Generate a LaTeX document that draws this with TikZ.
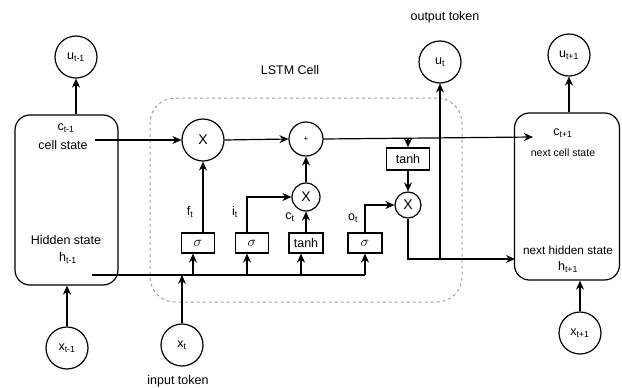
\documentclass[tikz,border=0pt]{standalone}
\usepackage{fontspec}
\setmainfont{Liberation Sans}
\usetikzlibrary{arrows.meta}
\begin{document}
\begin{tikzpicture}[x=1pt,y=-1pt,
  font=\fontsize{12.5}{14}\selectfont,
  circ/.style={circle, draw, line width=1.2pt, minimum size=42pt, inner sep=0pt},
  gatebox/.style={draw, line width=1.2pt, minimum width=33pt, minimum height=20pt, inner sep=0pt},
  statebox/.style={draw, line width=1.2pt, rounded corners=15pt},
  arr/.style={-{Stealth[length=9pt,width=8pt]}, line width=1.2pt},
  ln/.style={line width=1.2pt},
  small/.style={font=\fontsize{10.5}{12}\selectfont},
  sig/.style={font=\fontsize{15}{16}\selectfont}
]
\useasboundingbox (0,0) rectangle (622,388);

% LSTM cell frame
\node[draw=gray!75, dashed, line width=1pt, rounded corners=25pt,
      minimum width=312pt, minimum height=204pt, inner sep=0pt] (cell) at (306,200) {};
\node (celllbl) at (290,70) {LSTM Cell};

% left state box
\node[statebox, minimum width=103pt, minimum height=170pt] (lbox) at (66.5,200) {};
\node (clm1) at (66,128) {c\textsubscript{t-1}};
\node (cslbl) at (63,145) {cell state};
\node (hslbl) at (66,240) {Hidden state};
\node (hlm1) at (68,258) {h\textsubscript{t-1}};
\node[circ] (utm1) at (76,57) {u\textsubscript{t-1}};
\node[circ] (xtm1) at (67,348) {x\textsubscript{t-1}};

% right state box
\node[statebox, minimum width=105pt, minimum height=167pt] (rbox) at (567,196.5) {};
\node (cp1) at (563,133) {c\textsubscript{t+1}};
\node[small] (ncs) at (563,153) {next cell state};
\node[font=\fontsize{11.8}{13}\selectfont] (nhs) at (568,250) {next hidden state};
\node (hp1) at (568,267) {h\textsubscript{t+1}};
\node[circ] (utp1) at (569,55) {u\textsubscript{t+1}};
\node[circ] (xtp1) at (580,333) {x\textsubscript{t+1}};

% input / output tokens
\node[circ] (xt) at (182,345) {x\textsubscript{t}};
\node (inlbl) at (178,381) {input token};
\node[circ] (ut) at (440,62) {u\textsubscript{t}};
\node (outlbl) at (445,17) {output token};

% operators
\node[circ, font=\fontsize{14}{15}\selectfont] (fx) at (203,140) {X};
\node[circ, minimum size=34pt] (pl) at (306,139) {\fontsize{8}{9}\selectfont +};
\node[circ, minimum size=28pt, font=\fontsize{14}{15}\selectfont] (ix) at (306,197) {X};
\node[circ, minimum size=26pt, font=\fontsize{14}{15}\selectfont] (ox) at (408,205) {X};

% gates
\node[gatebox, sig] (fbox) at (198,243) {$\sigma$};
\node[gatebox, sig] (ibox) at (252,243) {$\sigma$};
\node[gatebox, minimum width=34pt] (tbox) at (306,243) {tanh};
\node[gatebox, minimum width=34pt, sig] (obox) at (365,243) {$\sigma$};
\node[gatebox, minimum width=43pt, minimum height=22pt] (th2) at (408,159) {tanh};

% gate labels
\node (ft) at (190,212) {f\textsubscript{t}};
\node (it) at (235,212) {i\textsubscript{t}};
\node (ctl) at (290,217) {c\textsubscript{t}};
\node (ot) at (353,218) {o\textsubscript{t}};

% coordinates
\coordinate (cs0) at (95,140);
\coordinate (c1) at (533,137);
\coordinate (tap) at (408,138);
\coordinate (h0) at (92,275);
\coordinate (h1) at (365,275);
\coordinate (bf) at (193,275);
\coordinate (bi) at (247,275);
\coordinate (bt) at (301,275);
\coordinate (hn) at (515,259);
\coordinate (uj) at (440,259);

% left box links
\draw[arr] (lbox.north -| utm1) -- (utm1.south);
\draw[arr] (xtm1.north) -- (xtm1.north |- lbox.south);

% right box links
\draw[arr] (rbox.north -| utp1) -- (utp1.south);
\draw[arr] (xtp1.north) -- (xtp1.north |- rbox.south);

% cell state line
\draw[arr] (cs0) -- (fx.west);
\draw[arr] (fx.east) -- (pl.west);
\draw[arr] (pl.east) -- (c1);
\draw[arr] (tap) -- (th2.north);
\draw[arr] (th2.south) -- (ox.north);

% gates to operators
\draw[arr] (fbox.north -| fx) -- (fx.south);
\draw[arr] (bi |- ibox.north) |- (ix.west);
\draw[arr] (tbox.north) -- (ix.south);
\draw[arr] (ix.north) -- (pl.south);
\draw[arr] (obox.north) |- (ox.west);

% hidden / input line
\draw[ln] (h0) -- (h1);
\draw[arr] (h1) -- (h1 |- obox.south);
\draw[arr] (bf) -- (bf |- fbox.south);
\draw[arr] (bi) -- (bi |- ibox.south);
\draw[arr] (bt) -- (bt |- tbox.south);
\draw[arr] (xt.north) -- (xt.north |- h0);

% output
\draw[arr] (ox.south) |- (hn);
\draw[arr] (uj) -- (ut.south);
\end{tikzpicture}
\end{document}
